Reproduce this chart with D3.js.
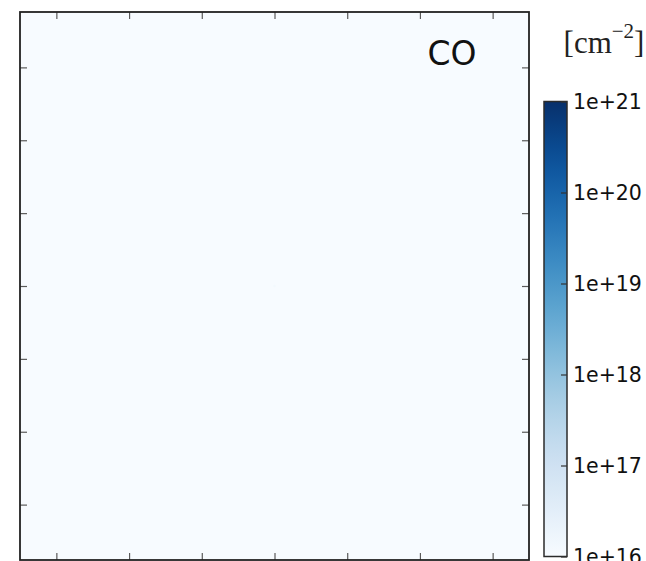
<!DOCTYPE html>
<html>
<head>
<meta charset="utf-8">
<script src="https://cdn.jsdelivr.net/npm/d3@7"></script>
<style>
  html, body { margin: 0; padding: 0; background: #ffffff; }
  svg { display: block; }
</style>
</head>
<body>
<svg id="chart" width="646" height="561"></svg>
<script>
// Column density map of CO, logarithmic colour scale.
const species = "CO";
const unitLabel = "cm";
const unitExponent = "−2";

// Map extent (offset units) and tick positions.
const xExtent = [-3.5, 3.5];
const yExtent = [-3.76, 3.76];
const xTicks = [-3, -2, -1, 0, 1, 2, 3];
const yTicks = [-3, -2, -1, 0, 1, 2, 3];

// Colour range of the column density [cm^-2].
const densityRange = [1e16, 1e21];
const colorbarTicks = [1e16, 1e17, 1e18, 1e19, 1e20, 1e21];
const colorbarTickLabels = ["1e+16", "1e+17", "1e+18", "1e+19", "1e+20", "1e+21"];

// Field values: a uniform floor everywhere, with a faint point at the centre.
const fieldFloor = 1e16;
const peakX = [0];
const peakY = [0];
const peakN = [1.25e16];

const svg = d3.select("#chart");

const x = d3.scaleLinear().domain(xExtent).range([20, 529]);
const y = d3.scaleLinear().domain(yExtent).range([560, 12]);
const color = d3.scaleSequentialLog(d3.interpolateBlues).domain(densityRange);

// Map field
const plot = svg.append("g");
plot.append("rect")
  .attr("x", x(xExtent[0])).attr("y", y(yExtent[1]))
  .attr("width", x(xExtent[1]) - x(xExtent[0]))
  .attr("height", y(yExtent[0]) - y(yExtent[1]))
  .attr("fill", color(fieldFloor));

plot.selectAll("circle.peak")
  .data(peakX.map((v, i) => ({x: v, y: peakY[i], n: peakN[i]})))
  .join("circle")
  .attr("class", "peak")
  .attr("cx", d => x(d.x)).attr("cy", d => y(d.y))
  .attr("r", 1.3)
  .attr("fill", d => color(d.n));

// Inward ticks on all four sides
const tickLen = 7;
const tickColor = "#5a5a5a";
const axisTop = d3.axisBottom(x).tickValues(xTicks).tickSize(tickLen).tickFormat("");
const axisBottom = d3.axisTop(x).tickValues(xTicks).tickSize(tickLen).tickFormat("");
const axisLeft = d3.axisRight(y).tickValues(yTicks).tickSize(tickLen).tickFormat("");
const axisRight = d3.axisLeft(y).tickValues(yTicks).tickSize(tickLen).tickFormat("");

function styleAxis(g) {
  g.select(".domain").remove();
  g.selectAll(".tick line").attr("stroke", tickColor).attr("stroke-width", 1.2);
}
svg.append("g").attr("transform", `translate(0,${y(yExtent[1])})`).call(axisTop).call(styleAxis);
svg.append("g").attr("transform", `translate(0,${y(yExtent[0])})`).call(axisBottom).call(styleAxis);
svg.append("g").attr("transform", `translate(${x(xExtent[0])},0)`).call(axisLeft).call(styleAxis);
svg.append("g").attr("transform", `translate(${x(xExtent[1])},0)`).call(axisRight).call(styleAxis);

// Frame
svg.append("rect")
  .attr("x", x(xExtent[0])).attr("y", y(yExtent[1]))
  .attr("width", x(xExtent[1]) - x(xExtent[0]))
  .attr("height", y(yExtent[0]) - y(yExtent[1]))
  .attr("fill", "none").attr("stroke", "#222").attr("stroke-width", 1.8);

// Species label
svg.append("text")
  .attr("x", 452).attr("y", 65)
  .attr("text-anchor", "middle")
  .attr("font-family", "DejaVu Sans")
  .attr("font-size", 33)
  .attr("fill", "#111")
  .text(species);

// Colour bar
const cbX = 544, cbW = 23;
const cb = d3.scaleLog().domain(densityRange).range([556.5, 101.5]);

const defs = svg.append("defs");
const grad = defs.append("linearGradient")
  .attr("id", "cbgrad")
  .attr("x1", 0).attr("y1", 1).attr("x2", 0).attr("y2", 0);
d3.range(0, 1.0001, 0.05).forEach(t => {
  grad.append("stop").attr("offset", t).attr("stop-color", d3.interpolateBlues(t));
});

svg.append("rect")
  .attr("x", cbX).attr("y", cb(densityRange[1]))
  .attr("width", cbW).attr("height", cb(densityRange[0]) - cb(densityRange[1]))
  .attr("fill", "url(#cbgrad)")
  .attr("stroke", "#2b2b2b").attr("stroke-width", 1.5);

const cbAxis = d3.axisLeft(cb).tickValues(colorbarTicks).tickSize(6).tickFormat("");
svg.append("g").attr("transform", `translate(${cbX + cbW},0)`).call(cbAxis).call(g => {
  g.select(".domain").remove();
  g.selectAll(".tick line").attr("stroke", "#333").attr("stroke-width", 1.2);
});

svg.append("g").selectAll("text")
  .data(colorbarTicks)
  .join("text")
  .attr("x", 573)
  .attr("y", d => cb(d))
  .attr("dy", "0.36em")
  .attr("font-family", "DejaVu Sans")
  .attr("font-size", 20.5)
  .attr("fill", "#111")
  .text((d, i) => colorbarTickLabels[i]);

// Unit label
const unit = svg.append("text")
  .attr("x", 604).attr("y", 53)
  .attr("text-anchor", "middle")
  .attr("font-family", "Liberation Serif")
  .attr("font-size", 31)
  .attr("fill", "#222");
unit.append("tspan").text("[" + unitLabel);
unit.append("tspan").attr("dy", -15).attr("font-size", 21).text(unitExponent);
unit.append("tspan").attr("dy", 15).text("]");
</script>
</body>
</html>
